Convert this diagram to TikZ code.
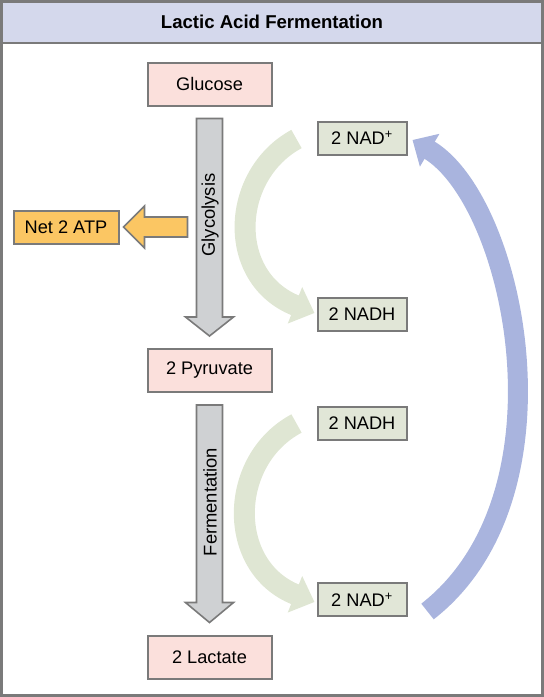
\documentclass[tikz,border=0pt]{standalone}
\usepackage{fontspec}
\setmainfont{Liberation Sans}
\usetikzlibrary{arrows.meta,calc}
\definecolor{framegray}{HTML}{7A7A7A}
\definecolor{titlefill}{HTML}{D4D8EC}
\definecolor{pinkfill}{HTML}{FBE0DC}
\definecolor{greenfill}{HTML}{E1E6D7}
\definecolor{atpfill}{HTML}{FBC663}
\definecolor{shaftfill}{HTML}{CFD1D3}
\definecolor{greenarrow}{HTML}{DFE6D3}
\definecolor{bluearrow}{HTML}{A9B4DE}
\tikzset{
  box/.style={draw=framegray, line width=2pt, inner sep=0pt, font=\fontsize{18.2}{20}\selectfont},
  pinkbox/.style={box, fill=pinkfill, minimum width=124pt, minimum height=43pt},
  greenbox/.style={box, fill=greenfill, minimum width=89pt, minimum height=33pt},
  atpbox/.style={box, fill=atpfill, minimum width=105pt, minimum height=33pt},
  shaft/.style={draw=framegray, line width=1.6pt, fill=shaftfill, line join=miter},
  orangeshaft/.style={draw=framegray, line width=1.6pt, fill=atpfill, line join=miter},
  greenflow/.style={draw=greenarrow, line width=21pt, -{Triangle[length=21pt,width=38pt]}},
  blueflow/.style={draw=bluearrow, line width=20pt, -{Triangle[length=20pt,width=37pt]}},
  vlabel/.style={rotate=90, font=\fontsize{18.4}{20}\selectfont, inner sep=0pt}
}
\begin{document}
\begin{tikzpicture}[x=1pt,y=-1pt]
\useasboundingbox (0,0) rectangle (544,697);
% frame and title band
\fill[titlefill] (1.5,1.5) rectangle (542.5,43);
\draw[framegray, line width=2.5pt] (1.5,43) -- (542.5,43);
\draw[framegray, line width=3pt] (1.5,1.5) rectangle (542.5,695.5);
\node[font=\bfseries\fontsize{18.6}{20}\selectfont] (title) at (272,22) {Lactic Acid Fermentation};
% main column
\node[pinkbox] (glu) at (209.5,84) {Glucose};
\node[pinkbox] (pyr) at (209.5,370) {2 Pyruvate};
\node[pinkbox] (lac) at (209.5,657) {2 Lactate};
% side boxes
\node[atpbox] (atp) at (66,227) {Net 2 ATP};
\node[greenbox] (nad1) at (362,138) {2 NAD\textsuperscript{+}};
\node[greenbox] (nadh1) at (362,314) {2 NADH};
\node[greenbox] (nadh2) at (362,423.5) {2 NADH};
\node[greenbox] (nad2) at (362,599.5) {2 NAD\textsuperscript{+}};
% glycolysis block arrow
\draw[shaft] ($(glu.south)+(-13,12)$) -- ($(glu.south)+(13,12)$) -- ($(pyr.north)+(13,-30.5)$) -- ($(pyr.north)+(24,-30.5)$) -- ($(pyr.north)+(0,-11.5)$) -- ($(pyr.north)+(-24,-30.5)$) -- ($(pyr.north)+(-13,-30.5)$) -- cycle;
\node[vlabel] (glylabel) at (210,215) {Glycolysis};
% fermentation block arrow
\draw[shaft] ($(pyr.south)+(-13,12.5)$) -- ($(pyr.south)+(13,12.5)$) -- ($(lac.north)+(13,-32)$) -- ($(lac.north)+(24,-32)$) -- ($(lac.north)+(0,-12)$) -- ($(lac.north)+(-24,-32)$) -- ($(lac.north)+(-13,-32)$) -- cycle;
\node[vlabel] (fermlabel) at (210,502) {Fermentation};
% ATP arrow
\draw[orangeshaft] ($(atp.east)+(68,-10)$) -- ($(atp.east)+(25,-10)$) -- ($(atp.east)+(25,-21)$) -- ($(atp.east)+(4,0)$) -- ($(atp.east)+(25,21)$) -- ($(atp.east)+(25,10)$) -- ($(atp.east)+(68,10)$) -- cycle;
% green cycling arrows
\coordinate (g1s) at ($(nad1.west)+(-20,1)$);
\coordinate (g1e) at ($(nadh1.west)+(-2,-1)$);
\draw[greenflow] (g1s) .. controls (230,175) and (226,278) .. (g1e);
\coordinate (g2s) at ($(nadh2.west)+(-20,0)$);
\coordinate (g2e) at ($(nad2.west)+(-2,2.5)$);
\draw[greenflow] (g2s) .. controls (228,460) and (226,567) .. (g2e);
% blue return arrow
\coordinate (bs) at ($(nad2.east)+(20,12)$);
\coordinate (be) at ($(nad1.east)+(5,2)$);
\draw[blueflow] (bs) .. controls (577,495) and (515,201) .. (be);
\end{tikzpicture}
\end{document}
